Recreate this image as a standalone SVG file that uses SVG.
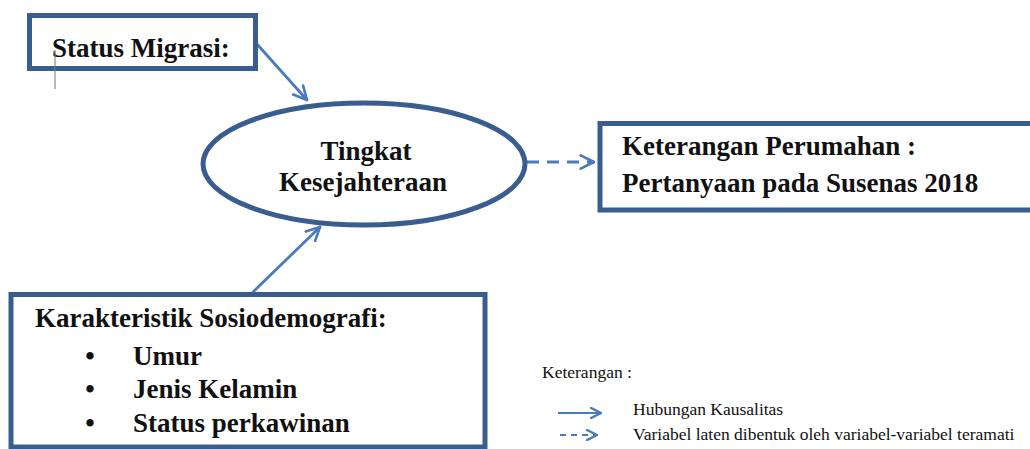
<svg xmlns="http://www.w3.org/2000/svg" width="1030" height="449" viewBox="0 0 1030 449">
<defs>
<style>
.box{fill:#fff;stroke:#3a5d8f;stroke-width:5}
.t{font-family:'Liberation Serif','Times New Roman',serif;font-weight:bold;font-size:27px;fill:#111}
.lg{font-family:'Liberation Serif','Times New Roman',serif;font-size:17.5px;fill:#111}
.c{fill:none;stroke:#4a7bbd;stroke-width:2.8;stroke-linecap:round}
.d{stroke-dasharray:12 8;stroke-linecap:butt}
</style>
<marker id="ah" viewBox="0 0 12 12" refX="11" refY="6" markerWidth="12" markerHeight="12" markerUnits="userSpaceOnUse" orient="auto">
<path d="M1,1 L11,6 L1,11" fill="none" stroke="#4a7bbd" stroke-width="2.5" stroke-linecap="round" stroke-linejoin="round"/>
</marker>
<marker id="ah2" viewBox="0 0 12 12" refX="11" refY="6" markerWidth="16" markerHeight="16" markerUnits="userSpaceOnUse" orient="auto">
<path d="M1,1 L11,6 L1,11" fill="none" stroke="#4a7bbd" stroke-width="2" stroke-linecap="round" stroke-linejoin="round"/>
</marker>
</defs>
<rect width="1030" height="449" fill="#fff"/>
<g id="connectors">
<line class="c" x1="256" y1="43" x2="307" y2="100" marker-end="url(#ah2)"/>
<line class="c" x1="253" y1="292" x2="320" y2="227" marker-end="url(#ah2)"/>
<line class="c d" x1="527" y1="162" x2="594" y2="162" marker-end="url(#ah2)"/>
</g>
<g id="status-migrasi">
<rect class="box" x="29.5" y="15.5" width="226" height="53"/>
<text class="t" x="52" y="57" font-family="Liberation Serif, serif">Status Migrasi:</text>
<line x1="55" y1="50" x2="55" y2="89" stroke="#777" stroke-width="1"/>
</g>
<g id="tingkat-kesejahteraan">
<ellipse cx="364" cy="164" rx="161" ry="61" fill="#fff" stroke="#3a5d8f" stroke-width="5"/>
<text class="t" x="366" y="160" text-anchor="middle" font-family="Liberation Serif, serif">Tingkat</text>
<text class="t" x="363" y="191" text-anchor="middle" font-family="Liberation Serif, serif">Kesejahteraan</text>
</g>
<g id="keterangan-perumahan">
<rect class="box" x="600" y="123.5" width="440" height="86.5" stroke-width="6"/>
<text class="t" x="622" y="155" font-family="Liberation Serif, serif">Keterangan Perumahan :</text>
<text class="t" x="622" y="192" font-family="Liberation Serif, serif">Pertanyaan pada Susenas 2018</text>
</g>
<g id="karakteristik">
<rect class="box" x="11" y="294.5" width="474" height="152.5"/>
<text class="t" x="35" y="327" font-family="Liberation Serif, serif">Karakteristik Sosiodemografi:</text>
<text class="t" x="90" y="365" text-anchor="middle" font-family="Liberation Serif, serif">•</text>
<text class="t" x="133" y="365" font-family="Liberation Serif, serif">Umur</text>
<text class="t" x="90" y="398" text-anchor="middle" font-family="Liberation Serif, serif">•</text>
<text class="t" x="133" y="398" font-family="Liberation Serif, serif">Jenis Kelamin</text>
<text class="t" x="90" y="432" text-anchor="middle" font-family="Liberation Serif, serif">•</text>
<text class="t" x="133" y="432" font-family="Liberation Serif, serif">Status perkawinan</text>
</g>
<g id="legend">
<text class="lg" x="542" y="378" font-family="Liberation Serif, serif">Keterangan :</text>
<line x1="558" y1="413" x2="601" y2="413" stroke="#4a7bbd" stroke-width="2" marker-end="url(#ah)"/>
<text class="lg" x="633" y="415" font-family="Liberation Serif, serif">Hubungan Kausalitas</text>
<line x1="560" y1="435" x2="597" y2="435" stroke="#4a7bbd" stroke-width="2" stroke-dasharray="6 5" marker-end="url(#ah)"/>
<text class="lg" x="633" y="440" font-family="Liberation Serif, serif">Variabel laten dibentuk oleh variabel-variabel teramati</text>
</g>
</svg>
